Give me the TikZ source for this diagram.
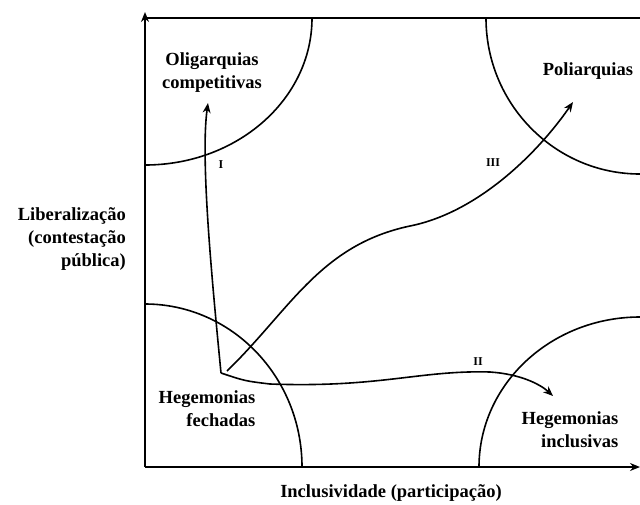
\documentclass[tikz,border=0pt]{standalone}
\usepackage{fontspec}
\setmainfont{Liberation Serif}
\usetikzlibrary{arrows.meta}
\begin{document}
\begin{tikzpicture}[x=1pt,y=-1pt,
  lbl/.style={font=\bfseries\fontsize{18.5}{23}\selectfont, inner sep=0pt},
  num/.style={font=\bfseries\fontsize{12}{14}\selectfont, inner sep=0pt},
  ln/.style={line width=1.6pt},
  arr/.style={line width=1.6pt, -{Stealth[length=10pt,width=8pt]}}]
\path[use as bounding box, fill=white] (0,0) rectangle (640,504);
% axes
\coordinate (O) at (145,467);
\coordinate (ytop) at (145,12);
\coordinate (xend) at (640,467);
\coordinate (tl) at (145,18);
\coordinate (tr) at (640,18);
\draw[arr] (O) -- (ytop);
\draw[arr] (O) -- (xend);
\draw[ln] (tl) -- (tr);
% quadrant arcs
\draw[ln] (312,18) arc[start angle=0, end angle=-90, x radius=167pt, y radius=147pt];
\draw[ln] (486,18) arc[start angle=180, end angle=270, x radius=154pt, y radius=156pt];
\draw[ln] (145,304) arc[start angle=90, end angle=0, x radius=157pt, y radius=163pt];
\draw[ln] (479,467) arc[start angle=180, end angle=90, x radius=161pt, y radius=150pt];
% labels
\node[lbl, align=center] (oli) at (212,73) {Oligarquias\\competitivas};
\node[lbl] (pol) at (588,71) {Poliarquias};
\node[lbl, align=right] (hf) at (207,409) {Hegemonias\\fechadas};
\node[lbl, align=right] (hi) at (570,430) {Hegemonias\\inclusivas};
\node[lbl, align=right, anchor=east] (lib) at (126,239) {Liberalização\\(contestação\\pública)};
\node[lbl] (inc) at (391,493) {Inclusividade (participação)};
% paths
\coordinate (o) at (221,373);
\coordinate (o3) at (227,371);
\coordinate (eI) at (208,103);
\coordinate (eIII) at (573,102);
\coordinate (eII) at (553,396);
\draw[arr] (o) .. controls (213,290) and (200,160) .. (eI);
\draw[arr] (o3) .. controls (290,310) and (320,245) .. (410,226) .. controls (480,212) and (540,150) .. (eIII);
\draw[arr] (o) .. controls (245,381) .. (270,384) .. controls (380,388) and (420,370) .. (490,372) .. controls (520,374) and (540,384) .. (eII);
\node[num] (nI) at (221,165) {I};
\node[num] (nII) at (478,362) {II};
\node[num] (nIII) at (493,163) {III};
\end{tikzpicture}
\end{document}
